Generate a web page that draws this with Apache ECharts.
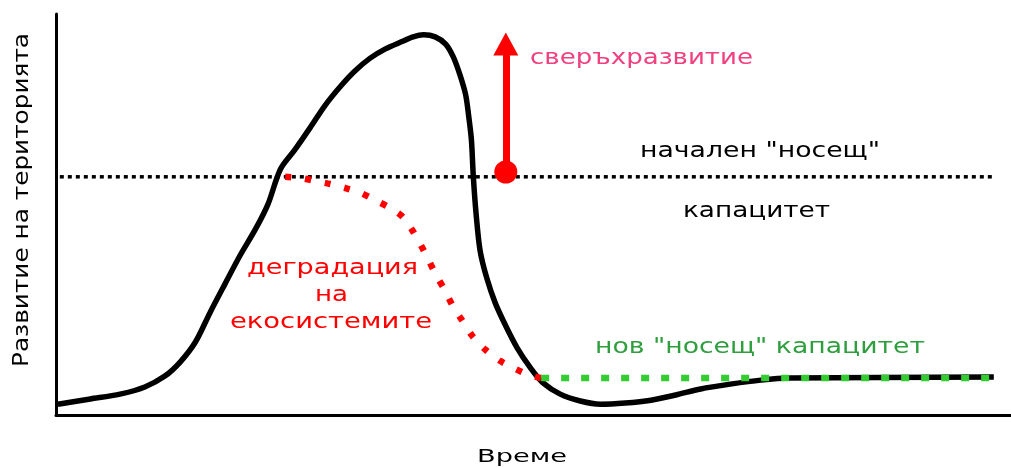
<!DOCTYPE html>
<html><head><meta charset="utf-8">
<script src="https://cdn.jsdelivr.net/npm/echarts@6/dist/echarts.min.js"></script>
<style>html,body{margin:0;padding:0;background:#fff}#c{width:1011px;height:468px}</style>
</head><body><div id="c"></div>
<script>
// Development of the territory over time (arbitrary units 0-100)
const developmentX = [0.2,3.6,6.7,9.3,11.4,13.0,14.6,16.1,17.7,19.3,20.9,22.2,23.5,25.0,26.6,28.2,29.8,31.3,32.9,34.5,36.1,37.4,38.5,39.7,40.8,41.6,42.3,42.9,43.2,43.5,43.7,44.0,44.4,45.1,46.0,47.1,48.3,49.7,51.0,52.8,54.9,57.0,59.6,62.3,64.9,67.5,70.6,73.8,76.9,98.2];
const developmentY = [2.7,4.0,5.2,7.0,9.7,13.2,18.2,25.4,32.7,39.9,46.4,52.6,61.3,66.1,71.6,77.3,82.0,85.8,89.0,91.3,93.0,94.3,94.8,94.3,92.5,89.3,84.8,79.8,74.8,68.6,59.4,49.9,41.1,34.2,27.9,22.2,16.7,11.7,8.0,5.2,3.5,2.7,3.0,3.7,5.0,6.5,7.7,8.7,9.2,9.5];
// Initial carrying capacity
const capacityX = [0.4, 98.4];
const capacityY = [59.4, 59.4];
// Ecosystem degradation
const degradationX = [24.0,25.6,27.1,28.7,30.3,31.9,33.4,35.0,36.3,37.3,38.2,39.0,39.8,40.7,41.5,42.5,43.6,45.0,46.5,48.1,49.5,50.8];
const degradationY = [59.4,59.1,58.4,57.6,56.6,55.4,53.6,51.6,49.4,46.1,42.4,38.7,34.9,31.2,27.4,23.7,19.7,16.2,13.5,11.5,10.0,9.2];
// New carrying capacity
const newCapacityX = [50.8, 98.2];
const newCapacityY = [9.2, 9.2];
// Overdevelopment arrow
const arrowX = [47.1, 47.1];
const arrowY = [60.6, 92.5];

const pairs = (xs, ys) => xs.map((x, i) => [x, ys[i]]);

const FONT = '"DejaVu Sans", "Noto Sans", sans-serif';
const ctx = document.createElement('canvas').getContext('2d');
function measure(text, size) { ctx.font = size + 'px ' + FONT; return ctx.measureText(text).width; }
function label(text, left, right, cy, size, color) {
  const w = measure(text, size);
  return { type: 'text', x: left, y: cy, scaleX: (right - left) / w, z: 100,
    style: { text: text, fill: color, fontSize: size, fontFamily: FONT,
      align: 'left', verticalAlign: 'middle', textAlign: 'left', textVerticalAlign: 'middle' } };
}
function vlabel(text, cx, bottom, top, size, color) {
  const w = measure(text, size);
  return { type: 'text', x: cx, y: bottom, rotation: Math.PI / 2, scaleX: (bottom - top) / w, z: 100,
    style: { text: text, fill: color, fontSize: size, fontFamily: FONT,
      align: 'left', verticalAlign: 'middle', textAlign: 'left', textVerticalAlign: 'middle' } };
}

const chart = echarts.init(document.getElementById('c'), null, { renderer: 'canvas' });
const axisCommon = {
  type: 'value', min: 0, max: 100,
  axisLine: { show: true, lineStyle: { color: '#000', width: 3 } },
  axisTick: { show: false }, axisLabel: { show: false }, splitLine: { show: false }
};
chart.setOption({
  animation: false,
  backgroundColor: '#fff',
  grid: { left: 56, right: 0, top: 14, bottom: 53 },
  xAxis: Object.assign({}, axisCommon),
  yAxis: Object.assign({}, axisCommon),
  series: [
    { type: 'line', data: pairs(capacityX, capacityY), symbol: 'none', z: 2, silent: true,
      lineStyle: { color: '#000', width: 3.5, type: [4, 4] } },
    { type: 'line', data: pairs(developmentX, developmentY), symbol: 'none', z: 3, smooth: 0.3, silent: true,
      lineStyle: { color: '#000', width: 5.5 } },
    { type: 'line', data: pairs(degradationX, degradationY), symbol: 'none', z: 4, smooth: 0.3, silent: true,
      lineStyle: { color: '#ff0000', width: 6.5, type: [6, 14] } },
    { type: 'line', data: pairs(newCapacityX, newCapacityY), symbol: 'none', z: 5, silent: true,
      lineStyle: { color: '#33cc33', width: 6.5, type: [8, 12] } },
    { type: 'line', data: [], symbol: 'none', z: 6, silent: true,
      markLine: { silent: true, symbol: ['circle', 'triangle'], symbolSize: [25, 23],
        label: { show: false },
        lineStyle: { color: '#ff0000', width: 7, type: 'solid' },
        data: [[{ coord: [arrowX[0], arrowY[0]] }, { coord: [arrowX[1], arrowY[1]] }]] } }
  ],
  graphic: [
    label('сверъхразвитие', 530, 753, 58, 22, '#f0407f'),
    label('начален "носещ"', 640, 880, 151, 22, '#000'),
    label('капацитет', 683, 830, 211, 22, '#000'),
    label('деградация', 247, 418, 268, 22, '#ff0000'),
    label('на', 315, 348, 295, 22, '#ff0000'),
    label('екосистемите', 230, 432, 322, 22, '#ff0000'),
    label('нов "носещ" капацитет', 595, 925, 347, 22, '#2e9e3e'),
    label('Време', 477, 567, 457, 18, '#000'),
    vlabel('Развитие на територията', 23, 367, 33, 21, '#000')
  ]
});
</script>
</body></html>
